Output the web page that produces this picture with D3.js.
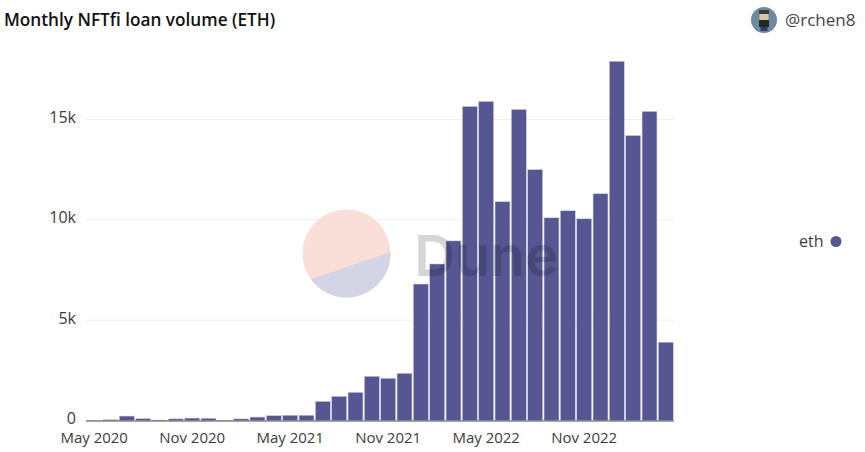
<!DOCTYPE html>
<html>
<head>
<meta charset="utf-8">
<script src="https://cdn.jsdelivr.net/npm/d3@7"></script>
<style>
  html, body { margin: 0; background: #fff; }
  text { font-family: "Open Sans", "Noto Sans", sans-serif; }
  .domain { display: none; }
  .tick line { display: none; }
</style>
</head>
<body>
<svg id="chart" width="865" height="452"></svg>
<script>
const months = ["May 2020","Jun 2020","Jul 2020","Aug 2020","Sep 2020","Oct 2020","Nov 2020","Dec 2020",
  "Jan 2021","Feb 2021","Mar 2021","Apr 2021","May 2021","Jun 2021","Jul 2021","Aug 2021","Sep 2021","Oct 2021","Nov 2021","Dec 2021",
  "Jan 2022","Feb 2022","Mar 2022","Apr 2022","May 2022","Jun 2022","Jul 2022","Aug 2022","Sep 2022","Oct 2022","Nov 2022","Dec 2022",
  "Jan 2023","Feb 2023","Mar 2023","Apr 2023"];
const eth = [5,40,220,90,20,80,120,110,10,80,170,240,260,260,950,1200,1400,2200,2100,2350,6800,7800,8950,15650,15900,10900,15500,12500,10100,10450,10050,11300,17900,14200,15400,3900];
const xTicks = ["May 2020","Nov 2020","May 2021","Nov 2021","May 2022","Nov 2022"];
const yTicks = [0,5000,10000,15000];
const yLabels = ["0","5k","10k","15k"];

const svg = d3.select("#chart");
const x = d3.scaleBand().domain(months).range([86, 674]).paddingInner(0.09).paddingOuter(0.045);
const y = d3.scaleLinear().domain([0, 15000]).range([420.5, 119.5]);

svg.append("text").attr("x", 4).attr("y", 26)
  .attr("font-size", 17.2).attr("font-weight", 600).attr("fill", "#111")
  .text("Monthly NFTfi loan volume (ETH)");

// gridlines
svg.append("g").selectAll("line").data(yTicks.slice(1)).join("line")
  .attr("x1", 86).attr("x2", 674)
  .attr("y1", d => y(d)).attr("y2", d => y(d))
  .attr("stroke", "#eeeeee").attr("stroke-width", 1);

// axes
const yAxis = svg.append("g").attr("transform", "translate(86,-2)")
  .call(d3.axisLeft(y).tickValues(yTicks).tickSize(0).tickPadding(10)
    .tickFormat((d, i) => yLabels[i]));
yAxis.selectAll("text").attr("font-size", 16).attr("fill", "#3c3c3c").style("font-family", '"Open Sans", sans-serif');

const xAxis = svg.append("g").attr("transform", "translate(0,421)")
  .call(d3.axisBottom(x).tickValues(xTicks).tickSize(0).tickPadding(11));
xAxis.selectAll("text").attr("font-size", 15).attr("fill", "#3c3c3c").style("font-family", '"Open Sans", sans-serif');

// watermark circle, the lower part is a chord segment and not a pie slice
const logo = svg.append("g").attr("transform", "translate(346.5,253.5)");
logo.append("circle").attr("r", 44).attr("fill", "#f9dfd8");
const chord = d3.path();
chord.arc(0, 0, 44, -0.034, 2.52);
chord.closePath();
logo.append("path").attr("d", chord.toString()).attr("fill", "#d4d5e4");

// bars
svg.append("g").selectAll("rect").data(eth).join("rect")
  .attr("x", (d, i) => x(months[i]))
  .attr("width", x.bandwidth())
  .attr("y", d => y(d))
  .attr("height", d => y(0) - y(d))
  .attr("fill", "#565692")
  .attr("stroke", "#c9c9e0").attr("stroke-width", 0.5);

// baseline
svg.append("line").attr("x1", 86).attr("x2", 674).attr("y1", 421).attr("y2", 421)
  .attr("stroke", "#4a4a4a").attr("stroke-width", 1);

// watermark text on top of the bars
svg.append("text").attr("x", 414).attr("y", 276)
  .attr("font-size", 57).attr("font-weight", 600).attr("fill", "#000").attr("opacity", 0.16)
  .style("font-family", '"Inter", sans-serif')
  .text("Dune");

// legend
svg.append("text").attr("x", 799).attr("y", 247)
  .attr("font-size", 16).attr("fill", "#3c3c3c").text("eth");
svg.append("circle").attr("cx", 836).attr("cy", 241.5).attr("r", 5.5).attr("fill", "#565692");

// author badge
const badge = svg.append("g").attr("transform", "translate(764,20)");
badge.append("circle").attr("r", 13).attr("fill", "#6d8aa0");
badge.append("rect").attr("x", -5).attr("y", -10).attr("width", 10).attr("height", 4).attr("fill", "#3b3a36");
badge.append("rect").attr("x", -4.5).attr("y", -6).attr("width", 9).attr("height", 6).attr("fill", "#d9c4ac");
badge.append("rect").attr("x", -5).attr("y", 0).attr("width", 10).attr("height", 7).attr("fill", "#1f2a24");
badge.append("rect").attr("x", -3.5).attr("y", 7).attr("width", 7).attr("height", 4).attr("fill", "#2e3c66");
svg.append("text").attr("x", 785).attr("y", 26)
  .attr("font-size", 17).attr("fill", "#444").text("@rchen8");
</script>
</body>
</html>
